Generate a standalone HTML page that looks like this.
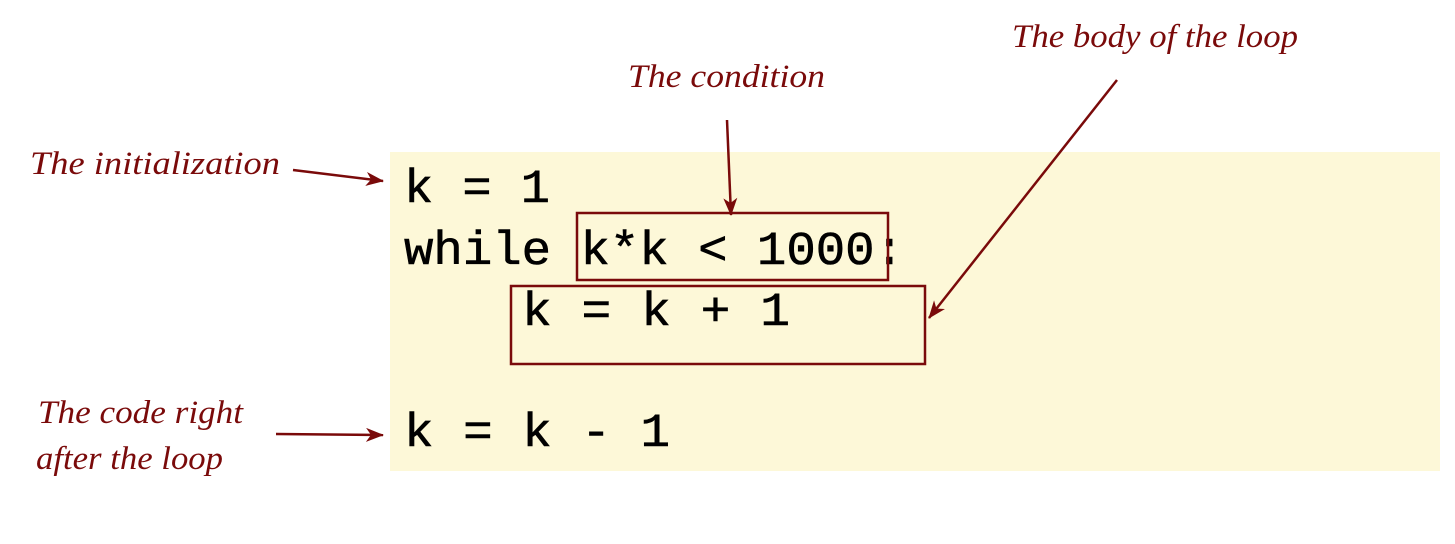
<!DOCTYPE html>
<html><head><meta charset="utf-8"><style>
html,body{margin:0;padding:0;background:#fff;width:1455px;height:544px;overflow:hidden}
</style></head><body>
<svg width="1455" height="544" xmlns="http://www.w3.org/2000/svg">
<defs>
<marker id="a" markerWidth="18" markerHeight="14" refX="17" refY="7" orient="auto" markerUnits="userSpaceOnUse">
<path d="M0,0 L18,7 L0,14 L5,7 Z" fill="#7a0a0a"/>
</marker>
</defs>
<rect x="390" y="152" width="1050" height="319" fill="#fdf8d8"/>
<g font-family="Liberation Mono, monospace" font-size="47" fill="#000" stroke="#000" stroke-width="0.6">
<text x="404" y="202" textLength="146" lengthAdjust="spacingAndGlyphs">k = 1</text>
<text x="404" y="264" textLength="500" lengthAdjust="spacingAndGlyphs">while k*k &lt; 1000:</text>
<text x="522" y="325" textLength="268" lengthAdjust="spacingAndGlyphs">k = k + 1</text>
<text x="404" y="446" textLength="266" lengthAdjust="spacingAndGlyphs">k = k - 1</text>
</g>
<g fill="none" stroke="#7a0a0a" stroke-width="2.5">
<rect x="577" y="213" width="311" height="67"/>
<rect x="511" y="286" width="414" height="78"/>
<line x1="293" y1="170" x2="383" y2="181" marker-end="url(#a)"/>
<line x1="727" y1="120" x2="731" y2="215" marker-end="url(#a)"/>
<line x1="1117" y1="80" x2="929" y2="318" marker-end="url(#a)"/>
<line x1="276" y1="434" x2="383" y2="435" marker-end="url(#a)"/>
</g>
<g font-family="Liberation Serif, serif" font-style="italic" font-size="33" fill="#7a0a0a">
<text x="30" y="174" textLength="250" lengthAdjust="spacingAndGlyphs">The initialization</text>
<text x="628" y="87" textLength="197" lengthAdjust="spacingAndGlyphs">The condition</text>
<text x="1012" y="47" textLength="286" lengthAdjust="spacingAndGlyphs">The body of the loop</text>
<text x="38" y="423" textLength="205" lengthAdjust="spacingAndGlyphs">The code right</text>
<text x="36" y="469" textLength="187" lengthAdjust="spacingAndGlyphs">after the loop</text>
</g>
</svg>
</body></html>
